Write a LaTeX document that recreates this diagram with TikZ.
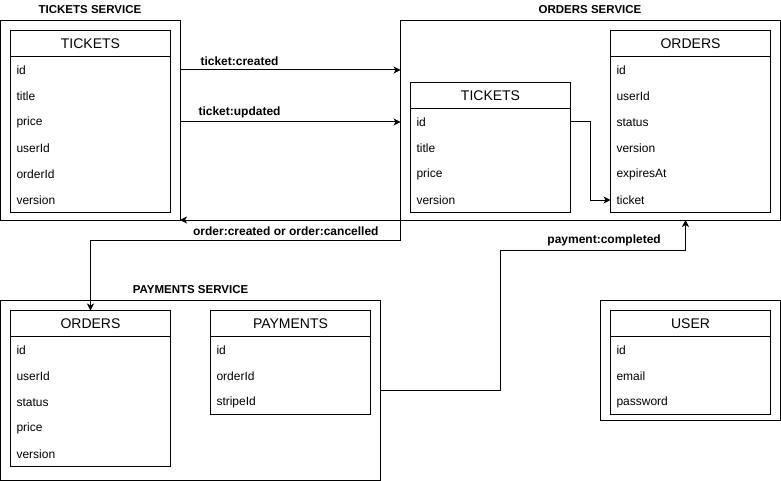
\documentclass[tikz,border=0pt]{standalone}
\usepackage{fontspec}
\setmainfont{Liberation Sans}
\usetikzlibrary{arrows.meta,calc}
\newcommand{\mktable}[6]{%
  % #1 name, #2 x, #3 y, #4 title, #5 number of rows, #6 rows
  \node[hdrbox] (#1-h) at (#2,#3) {#4};
  \node[bodybox, minimum height=26*#5] (#1-b) at (#1-h.south west) {};
  \foreach \r [count=\i] in {#6} {
    \node[rowtxt] (#1-\i) at (#2+5.5, #3+14+26*\i) {\r};
  }
}
\begin{document}
\begin{tikzpicture}[x=1pt,y=-1pt,line width=1pt,
  svcbox/.style={draw, rectangle, anchor=north west, inner sep=0pt, outer sep=0pt},
  hdrbox/.style={draw, rectangle, anchor=north west, inner sep=0pt, outer sep=0pt,
    minimum width=160, minimum height=26, font=\fontsize{14}{16}\selectfont},
  bodybox/.style={draw, rectangle, anchor=north west, inner sep=0pt, outer sep=0pt,
    minimum width=160},
  rowtxt/.style={anchor=west, inner sep=0pt, font=\fontsize{12}{14}\selectfont},
  lbl/.style={font=\bfseries\fontsize{12}{14}\selectfont, inner sep=0pt},
  ttl/.style={font=\bfseries\fontsize{11.5}{14}\selectfont, inner sep=0pt},
  arr/.style={-{Stealth[length=7pt,width=7pt,inset=2pt]}}]
\useasboundingbox (0,0) rectangle (781,481);

% service boxes
\node[svcbox, minimum width=179.5, minimum height=199.5] (ts) at (0.5,20.5) {};
\node[svcbox, minimum width=379.5, minimum height=199.5] (os) at (400.5,20.5) {};
\node[svcbox, minimum width=379.5, minimum height=179.5] (ps) at (0.5,300.5) {};
\node[svcbox, minimum width=179.5, minimum height=119.5] (us) at (600.5,300.5) {};

% titles
\node[ttl] (tst) at (90,9.5) {TICKETS SERVICE};
\node[ttl] (ost) at (590,9.5) {ORDERS SERVICE};
\node[ttl] (pst) at (190.5,290) {PAYMENTS SERVICE};

% tables
\mktable{ta}{10.5}{30.5}{TICKETS}{6}{id,title,price,userId,orderId,version}
\mktable{tb}{410.5}{82.5}{TICKETS}{4}{id,title,price,version}
\mktable{oa}{610.5}{30.5}{ORDERS}{6}{id,userId,status,version,expiresAt,ticket}
\mktable{ob}{10.5}{310.5}{ORDERS}{5}{id,userId,status,price,version}
\mktable{pa}{210.5}{310.5}{PAYMENTS}{3}{id,orderId,stripeId}
\mktable{ua}{610.5}{310.5}{USER}{3}{id,email,password}

% connectors
\draw[arr] (ts.east |- ta-1.west) ++(0,-0.5) coordinate (c1s) -- node[lbl, pos=0.27, above=4pt] {ticket:created} (os.west |- c1s);
\draw[arr] (ts.east |- tb-1.west) ++(0,-0.5) coordinate (c2s) -- node[lbl, pos=0.27, above=4pt] {ticket:updated} (os.west |- c2s);
\draw[arr] (os.south west) -- node[lbl, pos=0.52, below=6pt] {order:created or order:cancelled} (ts.south east);
\draw[arr] (os.south west) -- ++(0,20) -| (ob-h.north);
\draw[arr] (tb-h.east |- c2s) -- ++(20,0) |- ($(oa-h.west |- oa-6.west)+(0,-0.5)$);
\coordinate (pcA) at (500.5,250.5);
\coordinate (pcB) at (685.5,250.5);
\draw[arr] (ps.east) -| (pcA) -- node[lbl, pos=0.56, above=4pt] {payment:completed} (pcB) -- (pcB |- os.south);
\end{tikzpicture}
\end{document}
